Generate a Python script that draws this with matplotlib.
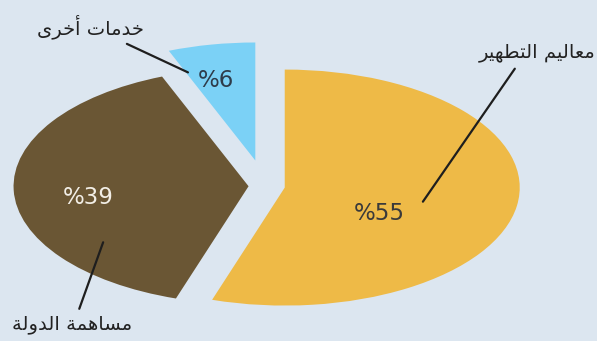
import numpy as np
import matplotlib
matplotlib.use("Agg")
import matplotlib.pyplot as plt

# revenue split
categories = ["معاليم التطهير", "مساهمة الدولة", "خدمات أخرى"]
shares = [55, 39, 6]
colors = ["#EEBA47", "#6A5634", "#7BD1F6"]
pct_colors = ["#3A3A3A", "#F2EEE6", "#2E3B4A"]

BG = "#DCE6F0"

# --- minimal Arabic shaping (matplotlib has no text layout engine) ---
FORMS = {
    # char: (isolated, final, initial, medial) ; None = not dual joining
    "\u0627": ("\uFE8D", "\uFE8E", None, None),
    "\u0623": ("\uFE83", "\uFE84", None, None),
    "\u062A": ("\uFE95", "\uFE96", "\uFE97", "\uFE98"),
    "\u0629": ("\uFE93", "\uFE94", None, None),
    "\u062E": ("\uFEA5", "\uFEA6", "\uFEA7", "\uFEA8"),
    "\u062F": ("\uFEA9", "\uFEAA", None, None),
    "\u0631": ("\uFEAD", "\uFEAE", None, None),
    "\u0633": ("\uFEB1", "\uFEB2", "\uFEB3", "\uFEB4"),
    "\u0637": ("\uFEC1", "\uFEC2", "\uFEC3", "\uFEC4"),
    "\u0639": ("\uFEC9", "\uFECA", "\uFECB", "\uFECC"),
    "\u0644": ("\uFEDD", "\uFEDE", "\uFEDF", "\uFEE0"),
    "\u0645": ("\uFEE1", "\uFEE2", "\uFEE3", "\uFEE4"),
    "\u0647": ("\uFEE9", "\uFEEA", "\uFEEB", "\uFEEC"),
    "\u0648": ("\uFEED", "\uFEEE", None, None),
    "\u064A": ("\uFEF1", "\uFEF2", "\uFEF3", "\uFEF4"),
    "\u0649": ("\uFEEF", "\uFEF0", None, None),
}


def dual(ch):
    return ch in FORMS and FORMS[ch][2] is not None


def shape(text):
    out = []
    for i, ch in enumerate(text):
        if ch not in FORMS:
            out.append(ch)
            continue
        prev = text[i - 1] if i > 0 else ""
        nxt = text[i + 1] if i + 1 < len(text) else ""
        join_prev = dual(prev)
        join_next = dual(ch) and nxt in FORMS
        iso, fin, ini, med = FORMS[ch]
        if join_prev and join_next:
            out.append(med)
        elif join_prev:
            out.append(fin)
        elif join_next:
            out.append(ini)
        else:
            out.append(iso)
    return "".join(reversed(out))


fig = plt.figure(figsize=(5.97, 3.41), dpi=100, facecolor=BG)
ax = fig.add_axes([0, 0, 1, 1])
ax.set_facecolor(BG)

wedges, _ = ax.pie(
    shares,
    colors=colors,
    startangle=90,
    counterclock=False,
    explode=[0.085, 0.07, 0.22],
    wedgeprops=dict(linewidth=0, antialiased=True),
    frame=True,
)

# stretch the pie into a flat ellipse
ax.set_aspect("auto")
ax.set_xlim(-265 / 235, (597 - 265) / 235)
ax.set_ylim(-(341 - 186) / 118, 186 / 118)
ax.axis("off")


def on_wedge(w, r, ang):
    cx, cy = w.center
    a = np.deg2rad(ang)
    return cx + r * np.cos(a), cy + r * np.sin(a)


# percentage labels inside the slices
pct_pos = [(0.46, -29), (0.69, 188), (0.70, 104)]
for w, v, c, (r, ang) in zip(wedges, shares, pct_colors, pct_pos):
    x, y = on_wedge(w, r, ang)
    ax.text(x, y, f"%{v}", color=c, fontsize=16.5, ha="center", va="center")

# category names with leader lines
leader = [(0.6, -11.5), (0.78, 217.5), (0.80, 111)]
name_pos = [(595, 341 - 53), (12, 341 - 325), (37, 341 - 27)]
name_ha = ["right", "left", "left"]
rel = [(0.35, 0.0), (0.54, 1.0), (0.75, 0.0)]
for w, name, (r, ang), pos, ha, rp in zip(wedges, categories, leader,
                                          name_pos, name_ha, rel):
    ax.annotate(
        shape(name),
        xy=on_wedge(w, r, ang),
        xytext=pos,
        textcoords="figure pixels",
        fontsize=14,
        color="#222222",
        ha=ha,
        va="center",
        arrowprops=dict(arrowstyle="-", color="#1E1E1E", lw=1.6,
                        relpos=rp, shrinkA=3, shrinkB=0),
    )

fig.savefig("out.png", dpi=100, facecolor=BG)
